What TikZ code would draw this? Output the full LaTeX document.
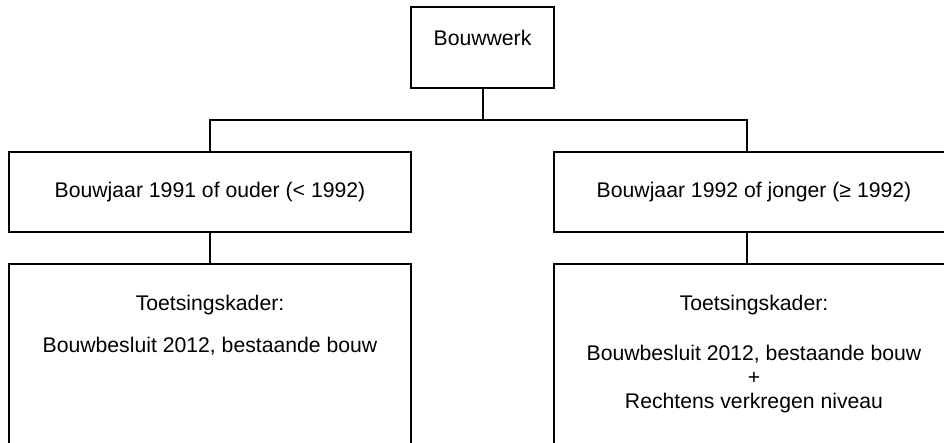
\documentclass[tikz,border=0pt]{standalone}
\usepackage{fontspec}
\setmainfont{Liberation Sans}
\tikzset{
	box/.style={draw, line width=2pt, inner sep=0pt, minimum width=402pt, minimum height=80pt},
	link/.style={line width=2pt},
	boxtext/.style={align=center, anchor=north, inner sep=0pt},
}
\begin{document}
\begin{tikzpicture}[x=1pt,y=-1pt,font=\fontsize{21.2}{24}\selectfont]
	\useasboundingbox (0,0) rectangle (944,443);
	\clip (0,0) rectangle (944,443); % Clips the picture...
		\coordinate (LSplit) at (210,120);
		\coordinate (RSplit) at (747,120);

		\node[box, minimum width=143pt, minimum height=81pt, text height=38.5pt, text depth=42.5pt] (Bouwwerk) at (482.5,47.5) {Bouwwerk};
		\node[box] (Ouder) at (210,192) {Bouwjaar 1991 of ouder (< 1992)};
		\node[box, minimum width=400pt] (Jonger) at (754,192) {Bouwjaar 1992 of jonger (≥ 1992)};
		\node[box, minimum height=200pt] (KaderOuder) at (210,364) {};
		\node[box, minimum width=400pt, minimum height=200pt] (KaderJonger) at (754,364) {};

		\node[boxtext] (TekstOuder) at (210,295) {Toetsingskader:\\[18pt]Bouwbesluit 2012, bestaande bouw};
		\node[boxtext] (TekstJonger) at (754,295) {Toetsingskader:\\[26pt]Bouwbesluit 2012, bestaande bouw\\+\\Rechtens verkregen niveau};

		\draw[link] (Bouwwerk.south) -- (Bouwwerk.south |- LSplit);% Draw tree lines
		\draw[link] (LSplit |- Ouder.north) -- (LSplit) -- (RSplit) -- (RSplit |- Jonger.north);
		\draw[link] (Ouder.south) -- (KaderOuder.north);
		\draw[link] (RSplit |- Jonger.south) -- (RSplit |- KaderJonger.north);
\end{tikzpicture}
\end{document}
